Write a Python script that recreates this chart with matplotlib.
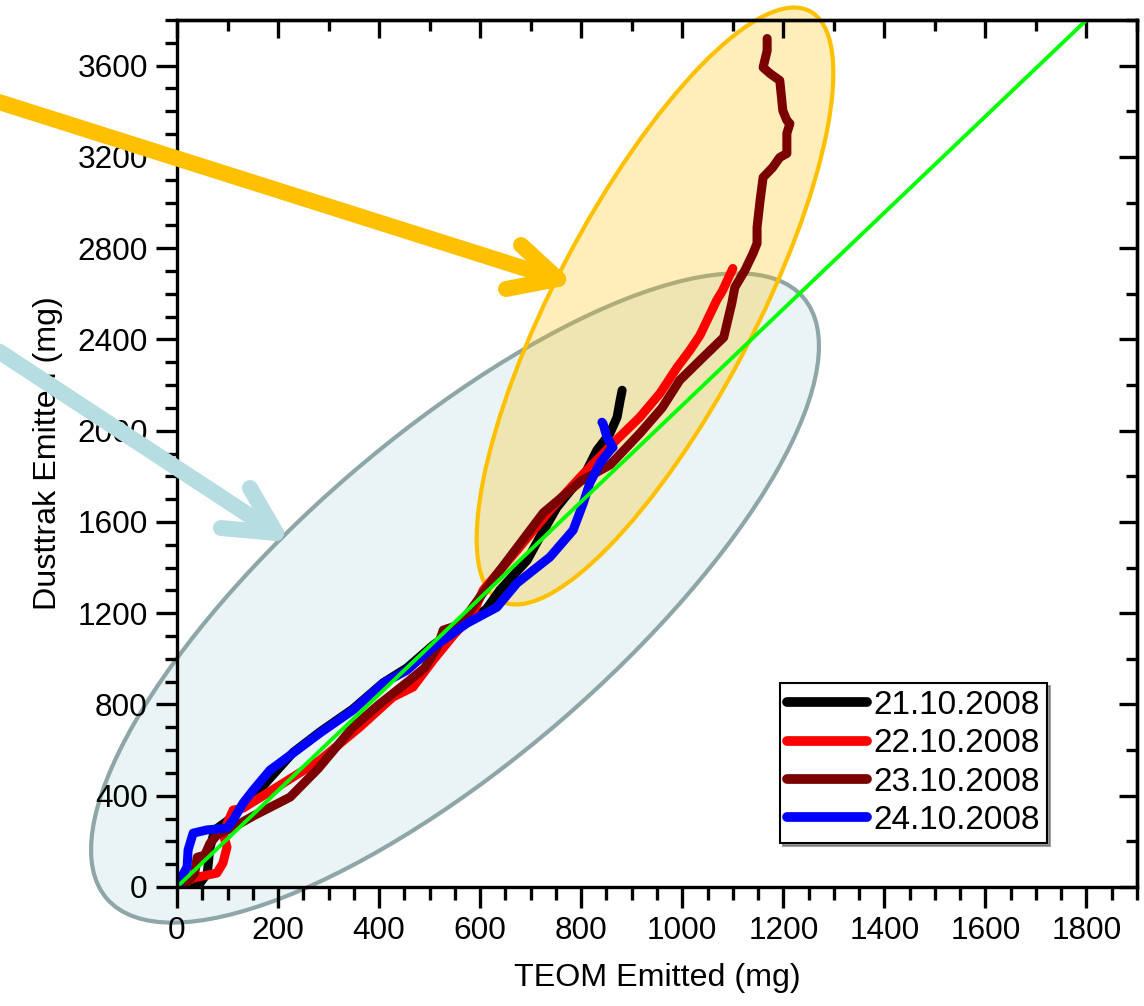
import matplotlib
matplotlib.use("Agg")
import matplotlib.pyplot as plt
from matplotlib.ticker import MultipleLocator
from matplotlib.patches import Ellipse
from matplotlib.lines import Line2D

plt.rcParams['font.family'] = ['Liberation Sans', 'DejaVu Sans']

# cumulative emitted mass per day: TEOM (x) vs Dusttrak (y), mg
teom_21 = [0, 20, 45, 60, 65, 75, 100, 165, 230, 283, 348, 408, 455, 507, 550,
           590, 613, 639, 693, 718, 752, 784, 811, 831, 857, 871, 877, 881]
dust_21 = [0, 5, 15, 60, 170, 250, 290, 430, 590, 680, 780, 895, 960, 1060, 1130,
           1180, 1220, 1301, 1432, 1533, 1664, 1752, 1826, 1914, 1989, 2059, 2133, 2177]

teom_22 = [0, 32, 79, 91, 99, 91, 111, 131, 198, 283, 362, 427, 467, 507, 546,
           586, 606, 673, 738, 798, 863, 916, 956, 990, 1015, 1035, 1068, 1080, 1100]
dust_22 = [0, 39, 61, 105, 175, 236, 337, 346, 438, 556, 701, 832, 876, 994, 1100,
           1200, 1301, 1476, 1651, 1796, 1945, 2059, 2164, 2278, 2352, 2418, 2571, 2615, 2711]

teom_23 = [0, 20, 35, 40, 55, 65, 80, 110, 150, 224, 280, 348, 400, 461, 490, 515,
           527, 560, 606, 650, 725, 800, 857, 916, 960, 995, 1035, 1082, 1098, 1104,
           1124, 1140, 1148, 1148, 1154, 1160, 1179, 1193, 1207, 1207, 1213, 1207,
           1199, 1193, 1174, 1160, 1168, 1168]
dust_23 = [0, 20, 60, 130, 140, 190, 230, 260, 310, 394, 520, 700, 800, 907, 960, 1050,
           1126, 1150, 1290, 1420, 1640, 1780, 1850, 1988, 2100, 2221, 2308, 2409, 2558, 2628,
           2703, 2777, 2821, 2891, 3009, 3110, 3154, 3198, 3215, 3303, 3346, 3360,
           3403, 3535, 3565, 3592, 3666, 3719]

teom_24 = [0, 6, 20, 22, 32, 59, 99, 111, 131, 151, 184, 230, 283, 348, 408, 455,
           507, 574, 633, 673, 738, 784, 804, 817, 837, 857, 863, 851, 843, 841]
dust_24 = [0, 31, 88, 162, 236, 250, 258, 293, 368, 425, 512, 587, 675, 775, 893, 950,
           1051, 1156, 1226, 1332, 1446, 1564, 1682, 1770, 1857, 1914, 1927, 1971, 2032, 2037]

ref_x = [0, 1800]
ref_y = [0, 3800]

series = [
    ('21.10.2008', teom_21, dust_21, 'black'),
    ('22.10.2008', teom_22, dust_22, '#FF0000'),
    ('23.10.2008', teom_23, dust_23, '#7B0000'),
    ('24.10.2008', teom_24, dust_24, '#0000FF'),
]

fig = plt.figure(figsize=(11.44, 10.06), dpi=100)
ax = fig.add_axes([0.1547, 0.1183, 0.9939 - 0.1547, 0.9801 - 0.1183])
ax.set_facecolor('none')
ax.set_zorder(1)

# highlight ellipses and arrows, positioned in figure inches (image px / 100)
H = 10.06
def px(x, y):
    return x / 100.0, H - y / 100.0

ell_low = Ellipse(px(455, 598), 2 * 4.60, 2 * 1.62, angle=40.8,
                  transform=fig.dpi_scale_trans, facecolor='#EAF4F5',
                  edgecolor='#8FA6A8', lw=3, zorder=0.5, clip_on=False)
ell_high = Ellipse(px(655, 306), 2 * 3.33, 2 * 1.00, angle=62.3,
                   transform=fig.dpi_scale_trans, facecolor=(1.0, 0.75, 0.0, 0.27),
                   edgecolor='#FFC000', lw=3, zorder=0.6, clip_on=False)
fig.patches.extend([ell_low, ell_high])

def arrow(start, tip, barb1, barb2, color):
    for p in (start, barb1, barb2):
        x0, y0 = px(*p)
        x1, y1 = px(*tip)
        fig.add_artist(Line2D([x0, x1], [y0, y1], transform=fig.dpi_scale_trans,
                              color=color, lw=11.5, solid_capstyle='round',
                              solid_joinstyle='miter', zorder=2))

arrow((-20, 96), (558, 279), (521, 245), (506, 289), '#FFC000')
arrow((-20, 339), (276, 533), (250, 488), (221, 528), '#B6DDE1')

for label, xs, ys, color in series:
    ax.plot(xs, ys, color=color, lw=6.5, solid_capstyle='round',
            solid_joinstyle='round', label=label, zorder=3)
ax.plot(ref_x, ref_y, color='#00FF00', lw=2.8, zorder=4)

ax.set_xlim(0, 1900)
ax.set_ylim(0, 3800)
ax.xaxis.set_minor_locator(MultipleLocator(50))
ax.yaxis.set_minor_locator(MultipleLocator(100))
ax.set_xticks(range(0, 1801, 200))
ax.set_yticks(range(0, 3601, 400))

for sp in ax.spines.values():
    sp.set_linewidth(2.4)
    sp.set_zorder(5)
ax.tick_params(which='major', direction='out', length=15, width=2.4,
               labelsize=22.7, pad=6)
ax.tick_params(which='minor', direction='out', length=9, width=2.4)

# inward ticks on top and right
top = ax.secondary_xaxis('top')
top.xaxis.set_major_locator(MultipleLocator(200))
top.xaxis.set_minor_locator(MultipleLocator(100))
top.tick_params(which='major', direction='in', length=13, width=2.4, labeltop=False)
top.tick_params(which='minor', direction='in', length=8, width=2.4)
top.spines['top'].set_linewidth(2.4)
right = ax.secondary_yaxis('right')
right.yaxis.set_major_locator(MultipleLocator(400))
right.yaxis.set_minor_locator(MultipleLocator(200))
right.tick_params(which='major', direction='in', length=13, width=2.4, labelright=False)
right.tick_params(which='minor', direction='in', length=8, width=2.4)
right.spines['right'].set_linewidth(2.4)

ax.set_xlabel('TEOM Emitted (mg)', fontsize=23.2, labelpad=12)
ax.set_ylabel('Dusttrak Emitted (mg)', fontsize=23.2, labelpad=10)

leg = ax.legend(loc='lower right', bbox_to_anchor=(0.906, 0.051), fontsize=24,
                frameon=True, fancybox=False, edgecolor='black', framealpha=1,
                handlelength=2.4, handletextpad=0.2, borderpad=0.2,
                labelspacing=0.22, borderaxespad=0, shadow=True)
leg.get_frame().set_linewidth(1.5)
for h in leg.get_lines():
    h.set_linewidth(7)
leg.set_zorder(6)

fig.savefig('out.png', dpi=100)
